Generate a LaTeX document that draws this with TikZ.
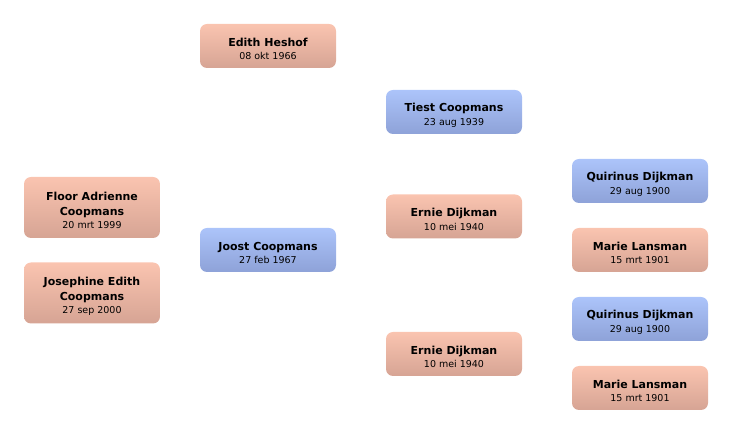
\documentclass[tikz,border=0pt]{standalone}
\usepackage{fontspec}
\setmainfont{DejaVu Sans}
\usetikzlibrary{positioning}
\definecolor{ftop}{RGB}{250,196,176}
\definecolor{fbot}{RGB}{214,164,148}
\definecolor{mtop}{RGB}{172,196,250}
\definecolor{mbot}{RGB}{142,162,216}
\tikzset{
  person/.style={rectangle, rounded corners=7pt, minimum width=136pt, minimum height=44pt,
    align=center, inner sep=2pt, font=\fontsize{9.5}{13.5}\selectfont, text=black},
  female/.style={person, top color=ftop, bottom color=fbot},
  male/.style={person, top color=mtop, bottom color=mbot},
}
\newcommand{\pname}[1]{\rule{0pt}{14.5pt}{\fontsize{11}{15}\selectfont\bfseries #1}}
\newcommand{\pnameb}[1]{{\fontsize{11}{15}\selectfont\bfseries #1}}
\begin{document}
\begin{tikzpicture}[x=1pt,y=-1pt]
\useasboundingbox (0,0) rectangle (732,435);
\node[female] (edith) at (268,46) {\pname{Edith Heshof}\\08 okt 1966};
\node[female, minimum height=61pt] (floor) at (92,207.5) {\pname{Floor Adrienne}\\[1.5pt]\pnameb{Coopmans}\\[-1pt]20 mrt 1999};
\node[female, minimum height=61pt] (josephine) at (92,293) {\pname{Josephine Edith}\\[1.5pt]\pnameb{Coopmans}\\[-1pt]27 sep 2000};
\node[male] (joost) at (268,250) {\pname{Joost Coopmans}\\27 feb 1967};
\node[male] (tiest) at (454,112) {\pname{Tiest Coopmans}\\23 aug 1939};
\node[female] (ernie1) at (454,216.5) {\pname{Ernie Dijkman}\\10 mei 1940};
\node[female] (ernie2) at (454,354) {\pname{Ernie Dijkman}\\10 mei 1940};
\node[male] (quirinus1) at (640,181) {\pname{Quirinus Dijkman}\\29 aug 1900};
\node[female] (marie1) at (640,250) {\pname{Marie Lansman}\\15 mrt 1901};
\node[male] (quirinus2) at (640,319) {\pname{Quirinus Dijkman}\\29 aug 1900};
\node[female] (marie2) at (640,388) {\pname{Marie Lansman}\\15 mrt 1901};
\end{tikzpicture}
\end{document}
